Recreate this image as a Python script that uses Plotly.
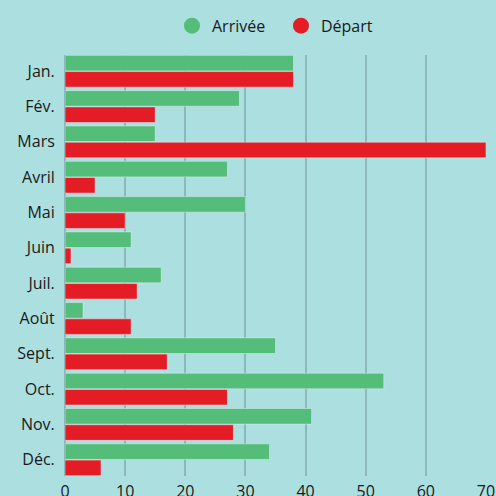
import plotly.graph_objects as go

months = ["Jan.", "Fév.", "Mars", "Avril", "Mai", "Juin", "Juil.", "Août", "Sept.", "Oct.", "Nov.", "Déc."]
arrivee = [38, 29, 15, 27, 30, 11, 16, 3, 35, 53, 41, 34]
depart = [38, 15, 70, 5, 10, 1, 12, 11, 17, 27, 28, 6]
x_ticks = [0, 10, 20, 30, 40, 50, 60, 70]

GREEN = "#53bd79"
RED = "#e31c25"
BG = "#acdfe0"
GRID = "#8cb8ba"

fig = go.Figure()
fig.add_trace(go.Bar(y=months, x=arrivee, orientation="h", marker_color=GREEN,
                     name="Arrivée", showlegend=False))
fig.add_trace(go.Bar(y=months, x=depart, orientation="h", marker_color=RED,
                     name="Départ", showlegend=False))
fig.add_trace(go.Scatter(x=[None], y=[None], mode="markers", name="Arrivée",
                         marker=dict(color=GREEN, size=18, symbol="circle")))
fig.add_trace(go.Scatter(x=[None], y=[None], mode="markers", name="Départ",
                         marker=dict(color=RED, size=18, symbol="circle")))

fig.update_layout(
    width=496, height=496,
    margin=dict(l=65, r=10, t=55, b=20),
    paper_bgcolor=BG, plot_bgcolor=BG,
    barmode="group", bargap=0.08, bargroupgap=0.04,
    font=dict(family="Open Sans", size=15, color="#1a1a1a"),
    legend=dict(orientation="h", x=0.513, xanchor="center", y=0.948, yanchor="middle",
                yref="container", font=dict(size=16), itemsizing="trace",
                entrywidth=64, entrywidthmode="pixels",
                bgcolor="rgba(0,0,0,0)"),
    xaxis=dict(range=[0, 70], tickvals=x_ticks, showgrid=True, gridcolor=GRID,
               gridwidth=1.5, zeroline=True, zerolinecolor=GRID, zerolinewidth=1.5,
               ticks="outside", ticklen=1, tickcolor=BG, automargin=False,
               fixedrange=True, tickfont=dict(size=16)),
    yaxis=dict(type="category", categoryorder="array", categoryarray=months,
               range=[11.46, -0.46], showgrid=False, ticks="outside", ticklen=6,
               tickcolor=BG, automargin=False, tickfont=dict(size=16)),
)
fig.write_html("out.html", config={"displayModeBar": False},
               post_script="document.body.style.margin='0';document.body.style.background='%s';" % BG)
